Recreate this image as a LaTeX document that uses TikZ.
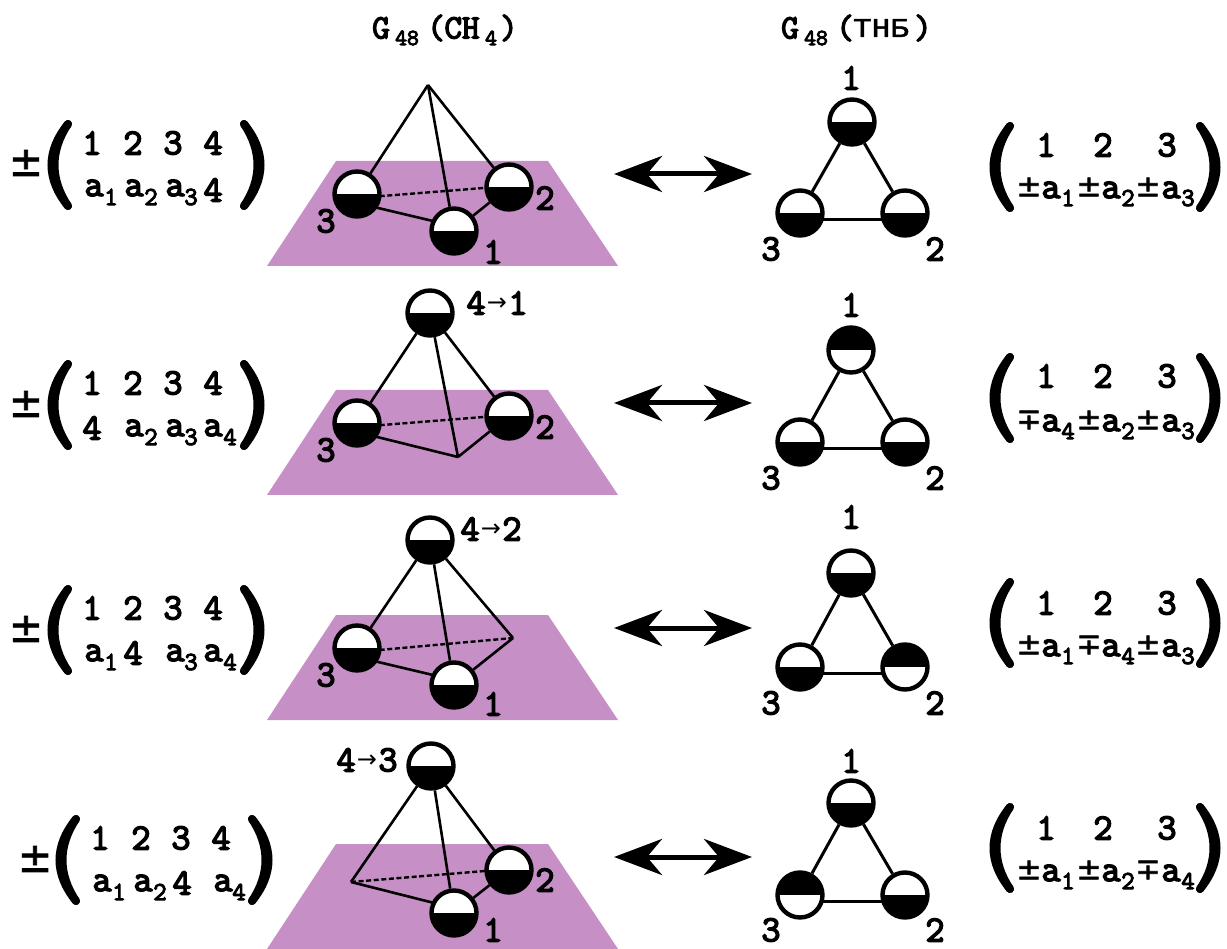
\documentclass[tikz,border=0pt]{standalone}
\usepackage{fontspec}
\usetikzlibrary{arrows.meta}
\newfontfamily\tx[FakeBold=4]{Latin Modern Mono}
\newfontfamily\txc[FakeBold=2,FakeStretch=1.15]{Liberation Mono}
\newfontfamily\pmf[FakeBold=2]{DejaVu Sans}
\newfontfamily\arr{DejaVu Sans}
\definecolor{planec}{HTML}{C68FC6}
\pgfdeclarelayer{plane}
\pgfdeclarelayer{edges}
\pgfsetlayers{plane,edges,main}
\newcounter{tn}
\newcommand{\lab}[4]{\stepcounter{tn}\node[txt] (T\arabic{tn}) at (#1,#2) {\fontsize{#3}{#3}\selectfont\tx #4};}
\newcommand{\bigt}[3]{\lab{#1}{#2}{37}{#3}}
\newcommand{\sbs}[3]{\lab{#1}{#2}{26}{#3}}
\newcommand{\sgn}[3]{\stepcounter{tn}\node[txt] (T\arabic{tn}) at (#1,#2) {\fontsize{30}{30}\selectfont\pmf #3};}
\newcommand{\bigsgn}[2]{\stepcounter{tn}\node[txt] (T\arabic{tn}) at (#1,#2) {\fontsize{41}{41}\selectfont\pmf ±};}
\newcommand{\arrow}[2]{\stepcounter{tn}\node[txt] (T\arabic{tn}) at (#1,#2) {\fontsize{24}{24}\selectfont\arr →};}
\tikzset{
  txt/.style={inner sep=0pt,outer sep=0pt,anchor=center},
  ball/.style={circle,draw=black,line width=4.4pt,fill=white,minimum size=45pt,inner sep=0pt,
    path picture={\fill[black] (path picture bounding box.west) rectangle (path picture bounding box.south east);}},
  ballinv/.style={circle,draw=black,line width=4.4pt,fill=white,minimum size=45pt,inner sep=0pt,
    path picture={\fill[black] (path picture bounding box.west) rectangle (path picture bounding box.north east);}},
  edgeline/.style={line width=2.6pt,black},
  triline/.style={line width=3pt,black},
  dashline/.style={line width=2.4pt,black,dash pattern=on 5pt off 2.6pt},
  planeshape/.style={fill=planec,draw=none},
  paren/.style={line width=8pt,line cap=round,black},
  dbl/.style={line width=5pt,black,{Stealth[length=48pt,width=36pt,inset=15pt]}-{Stealth[length=48pt,width=36pt,inset=15pt]}}
}
% left edge x, right edge x, centre y
\newcommand{\parenpair}[3]{%
 \draw[paren] (#1+23,#3-41) .. controls (#1+1,#3-14) and (#1+1,#3+14) .. (#1+23,#3+41);
 \draw[paren] (#1+23,#3-41) .. controls (#1+5,#3-14) and (#1+5,#3+14) .. (#1+23,#3+41);
 \draw[paren] (#2-23,#3-41) .. controls (#2-1,#3-14) and (#2-1,#3+14) .. (#2-23,#3+41);
 \draw[paren] (#2-23,#3-41) .. controls (#2-5,#3-14) and (#2-5,#3+14) .. (#2-23,#3+41);}
\newcommand{\planeat}[1]{\begin{pgfonlayer}{plane}\fill[planeshape] (267,#1+105) -- (336,#1) -- (548,#1) -- (618,#1+105) -- cycle;\end{pgfonlayer}}
\newcommand{\topfour}[2]{\bigt{#1}{#2}{1}\bigt{#1+41}{#2}{2}\bigt{#1+81}{#2}{3}\bigt{#1+121}{#2}{4}}
\newcommand{\topthree}[1]{\bigt{1046}{#1}{1}\bigt{1103}{#1}{2}\bigt{1167}{#1}{3}}
\newcommand{\rightlow}[7]{%
 \sgn{1029}{#1-3}{#2}\bigt{1051}{#1}{a}\sbs{1068}{#1+8}{#3}%
 \sgn{1089}{#1-3}{#4}\bigt{1111}{#1}{a}\sbs{1128}{#1+8}{#5}%
 \sgn{1148}{#1-3}{#6}\bigt{1171}{#1}{a}\sbs{1188}{#1+8}{#7}}
% triangle edges: #1 top, #2 left, #3 right
\newcommand{\triedges}[3]{\begin{pgfonlayer}{edges}
\draw[triline] (#1) -- (#2);\draw[triline] (#1) -- (#3);\draw[triline] ([yshift=-6.5pt]#2.center) -- ([yshift=-6.5pt]#3.center);
\end{pgfonlayer}}
\begin{document}
\begin{tikzpicture}[x=1pt,y=-1pt]
\useasboundingbox (0,0) rectangle (1227,949);
% titles
\lab{381}{28}{34}{G}\lab{407}{38}{23}{48}\lab{436}{28}{34}{(}
\lab{462}{28}{34}{CH}\lab{491}{38}{23}{4}\lab{509}{28}{34}{)}
\lab{790}{28}{34}{G}\lab{816}{38}{23}{48}\lab{845}{28}{34}{(}
\stepcounter{tn}\node[txt] (T\arabic{tn}) at (881,28) {\fontsize{27}{27}\selectfont\txc ТНБ};
\lab{923}{28}{34}{)}
% ROW 1
\planeat{161}
\bigsgn{26}{163}\parenpair{45}{267}{165}
\topfour{92}{143}
\bigt{94}{188}{a}\sbs{111}{197}{1}\bigt{134}{188}{a}\sbs{151}{197}{2}\bigt{175}{188}{a}\sbs{191}{197}{3}\bigt{213}{190}{4}
\coordinate (a1) at (428,85);
\node[ball] (b13) at (357,194) {};
\node[ball] (b12) at (509,187) {};
\node[ball] (b11) at (454,231) {};
\begin{pgfonlayer}{edges}
\draw[edgeline] (a1) -- (b13);\draw[edgeline] (a1) -- (b12);\draw[edgeline] (a1) -- (b11);
\draw[edgeline] ([yshift=-9pt]b13.center) -- ([yshift=5pt]b11.center);\draw[edgeline] (b11) -- (b12);\draw[dashline] ([yshift=-4pt]b13.center) -- ([yshift=1pt]b12.center);
\end{pgfonlayer}
\bigt{326}{221}{3}\bigt{545}{198}{2}\bigt{493}{252}{1}
\coordinate (la1) at (614,174);\coordinate (ra1) at (752,174);
\draw[dbl] (la1) -- (ra1);
\node[ball] (t11) at (852,122) {};
\node[ball] (t13) at (800,213) {};
\node[ball] (t12) at (905,213) {};
\triedges{t11}{t13}{t12}
\bigt{851}{78}{1}\bigt{771}{249}{3}\bigt{935}{249}{2}
\parenpair{987}{1223}{167}
\topthree{145}
\rightlow{190}{±}{1}{±}{2}{±}{3}
% ROW 2
\planeat{390}
\bigsgn{26}{404}\parenpair{45}{267}{405}
\topfour{92}{383}
\bigt{92}{428}{4}\bigt{134}{428}{a}\sbs{151}{437}{2}\bigt{175}{428}{a}\sbs{191}{437}{3}\bigt{213}{428}{a}\sbs{230}{437}{4}
\node[ball] (a2) at (430,313) {};
\node[ball] (b23) at (357,423) {};
\node[ball] (b22) at (509,416) {};
\coordinate (b21) at (458,457);
\begin{pgfonlayer}{edges}
\draw[edgeline] (a2) -- (b23);\draw[edgeline] (a2) -- (b22);\draw[edgeline] (a2) -- (b21);
\draw[edgeline] ([yshift=-9pt]b23.center) -- (b21);\draw[edgeline] (b21) -- (b22);\draw[dashline] ([yshift=-4pt]b23.center) -- ([yshift=1pt]b22.center);
\end{pgfonlayer}
\bigt{326}{450}{3}\bigt{545}{427}{2}
\bigt{476}{303}{4}\arrow{497}{304}\bigt{518}{303}{1}
\coordinate (la2) at (614,403);\coordinate (ra2) at (752,403);
\draw[dbl] (la2) -- (ra2);
\node[ballinv] (t21) at (851,350) {};
\node[ball] (t23) at (800,442) {};
\node[ball] (t22) at (905,442) {};
\triedges{t21}{t23}{t22}
\bigt{851}{305}{1}\bigt{771}{478}{3}\bigt{935}{478}{2}
\parenpair{987}{1223}{398}
\topthree{376}
\rightlow{423}{∓}{4}{±}{2}{±}{3}
% ROW 3
\planeat{615}
\bigsgn{26}{629}\parenpair{45}{267}{630}
\topfour{92}{608}
\bigt{94}{653}{a}\sbs{111}{662}{1}\bigt{133}{653}{4}\bigt{175}{653}{a}\sbs{191}{662}{3}\bigt{213}{653}{a}\sbs{230}{662}{4}
\node[ball] (a3) at (430,540) {};
\node[ball] (b33) at (357,648) {};
\coordinate (b32) at (513,638);
\node[ball] (b31) at (454,685) {};
\begin{pgfonlayer}{edges}
\draw[edgeline] (a3) -- (b33);\draw[edgeline] (a3) -- (b32);\draw[edgeline] (a3) -- (b31);
\draw[edgeline] ([yshift=-9pt]b33.center) -- ([yshift=5pt]b31.center);\draw[edgeline] (b31) -- (b32);\draw[dashline] ([yshift=-4pt]b33.center) -- (b32);
\end{pgfonlayer}
\bigt{326}{675}{3}\bigt{493}{704}{1}
\bigt{470}{529}{4}\arrow{491}{530}\bigt{512}{529}{2}
\coordinate (la3) at (614,628);\coordinate (ra3) at (752,628);
\draw[dbl] (la3) -- (ra3);
\node[ball] (t31) at (851,573) {};
\node[ball] (t33) at (800,667) {};
\node[ballinv] (t32) at (905,667) {};
\triedges{t31}{t33}{t32}
\bigt{851}{517}{1}\bigt{771}{703}{3}\bigt{935}{703}{2}
\parenpair{987}{1223}{623}
\topthree{603}
\rightlow{648}{±}{1}{∓}{4}{±}{3}
% ROW 4
\planeat{844}
\bigsgn{35}{859}\parenpair{53}{275}{860}
\topfour{100}{838}
\bigt{102}{883}{a}\sbs{119}{892}{1}\bigt{143}{883}{a}\sbs{160}{892}{2}\bigt{182}{883}{4}\bigt{223}{883}{a}\sbs{239}{892}{4}
\node[ball] (a4) at (431,766) {};
\coordinate (b43) at (351,882);
\node[ball] (b42) at (509,870) {};
\node[ball] (b41) at (454,913) {};
\begin{pgfonlayer}{edges}
\draw[edgeline] (a4) -- (b43);\draw[edgeline] (a4) -- (b42);\draw[edgeline] (a4) -- (b41);
\draw[edgeline] (b43) -- ([yshift=5pt]b41.center);\draw[edgeline] (b41) -- (b42);\draw[dashline] (b43) -- ([yshift=1pt]b42.center);
\end{pgfonlayer}
\bigt{545}{880}{2}\bigt{493}{930}{1}
\bigt{346}{760}{4}\arrow{367}{761}\bigt{388}{760}{3}
\coordinate (la4) at (614,857);\coordinate (ra4) at (752,857);
\draw[dbl] (la4) -- (ra4);
\node[ball] (t41) at (851,803) {};
\node[ballinv] (t43) at (800,895) {};
\node[ball] (t42) at (905,895) {};
\triedges{t41}{t43}{t42}
\bigt{851}{761}{1}\bigt{771}{930}{3}\bigt{935}{930}{2}
\parenpair{987}{1223}{848}
\topthree{828}
\rightlow{873}{±}{1}{±}{2}{∓}{4}
\end{tikzpicture}
\end{document}
